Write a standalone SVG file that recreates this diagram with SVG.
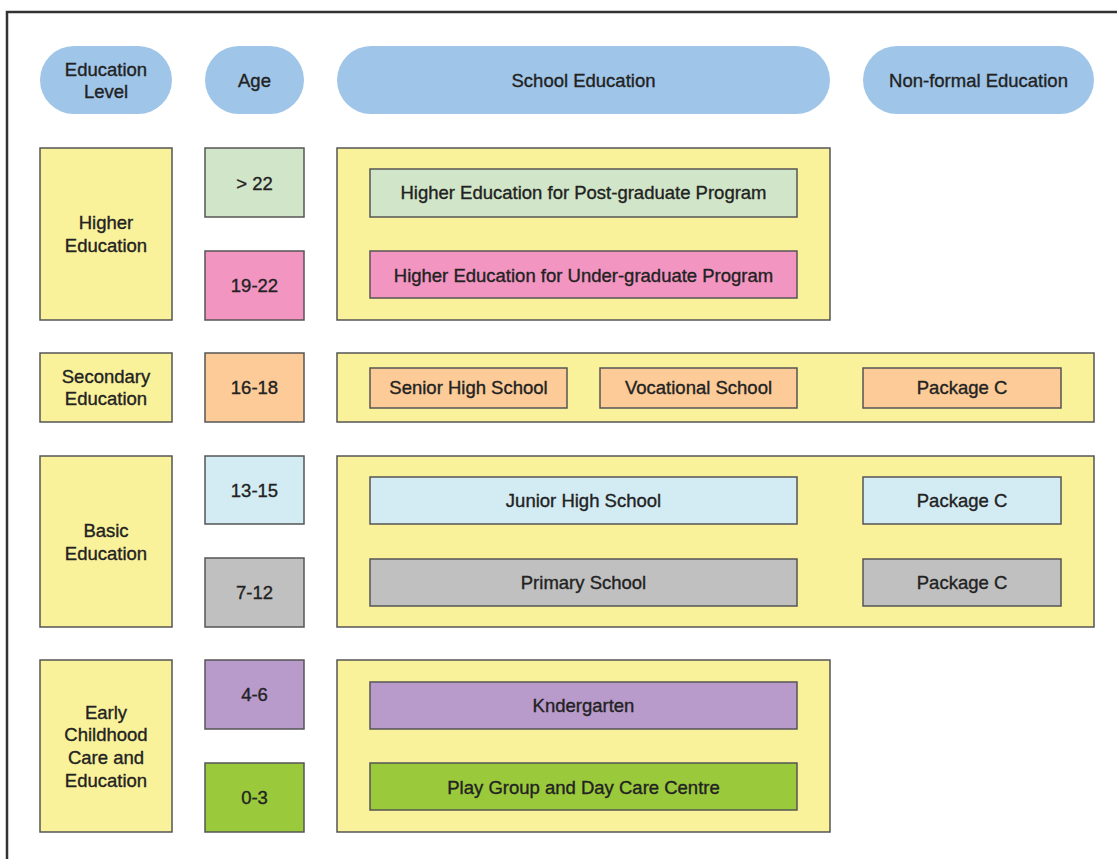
<svg xmlns="http://www.w3.org/2000/svg" width="1117" height="859" viewBox="0 0 1117 859">
<style>
text{font-family:"Liberation Sans",Arial,sans-serif;font-size:18.5px;fill:#222;stroke:#222;stroke-width:0.35;text-anchor:middle;dominant-baseline:central}
.pill{fill:#9FC5E8}
.box{stroke:#555;stroke-width:1.5}
.y{fill:#FAF29A}
.g{fill:#D1E6C8}
.p{fill:#F395C1}
.o{fill:#FCCB97}
.lb{fill:#D3EBF3}
.gr{fill:#C0C0C0}
.pu{fill:#B89ACB}
.gn{fill:#9AC93C}
</style>
<rect width="1117" height="859" fill="#fff"/>
<path d="M7,859 V12 H1117" fill="none" stroke="#333" stroke-width="2.5"/>
<g id="header">
<g id="h-level"><rect class="pill" x="40" y="46" width="132" height="68" rx="34"/><text x="106" y="69">Education</text><text x="106" y="91">Level</text></g>
<g id="h-age"><rect class="pill" x="205" y="46" width="99" height="68" rx="34"/><text x="254.5" y="80">Age</text></g>
<g id="h-school"><rect class="pill" x="337" y="46" width="493" height="68" rx="34"/><text x="583.5" y="80">School Education</text></g>
<g id="h-nonformal"><rect class="pill" x="863" y="46" width="231" height="68" rx="34"/><text x="978.5" y="80">Non-formal Education</text></g>
</g>
<g id="higher">
<g id="lvl-higher"><rect class="box y" x="40" y="148" width="132" height="172"/><text x="106" y="222">Higher</text><text x="106" y="245">Education</text></g>
<g id="age-22plus"><rect class="box g" x="205" y="148" width="99" height="69"/><text x="254.5" y="183">&gt; 22</text></g>
<g id="age-19-22"><rect class="box p" x="205" y="251" width="99" height="69"/><text x="254.5" y="285">19-22</text></g>
<g id="school-higher"><rect class="box y" x="337" y="148" width="493" height="172"/></g>
<g id="postgrad"><rect class="box g" x="370" y="169" width="427" height="48"/><text x="583.5" y="192">Higher Education for Post-graduate Program</text></g>
<g id="undergrad"><rect class="box p" x="370" y="251" width="427" height="47"/><text x="583.5" y="275">Higher Education for Under-graduate Program</text></g>
</g>
<g id="secondary">
<g id="lvl-secondary"><rect class="box y" x="40" y="353" width="132" height="69"/><text x="106" y="376">Secondary</text><text x="106" y="398">Education</text></g>
<g id="age-16-18"><rect class="box o" x="205" y="353" width="99" height="69"/><text x="254.5" y="387">16-18</text></g>
<g id="school-secondary"><rect class="box y" x="337" y="353" width="757" height="69"/></g>
<g id="senior"><rect class="box o" x="370" y="368" width="197" height="40"/><text x="468.5" y="387">Senior High School</text></g>
<g id="vocational"><rect class="box o" x="600" y="368" width="197" height="40"/><text x="698.5" y="387">Vocational School</text></g>
<g id="pkgc-sec"><rect class="box o" x="863" y="368" width="198" height="40"/><text x="962" y="387">Package C</text></g>
</g>
<g id="basic">
<g id="lvl-basic"><rect class="box y" x="40" y="456" width="132" height="171"/><text x="106" y="530">Basic</text><text x="106" y="553">Education</text></g>
<g id="age-13-15"><rect class="box lb" x="205" y="456" width="99" height="68"/><text x="254.5" y="490">13-15</text></g>
<g id="age-7-12"><rect class="box gr" x="205" y="558" width="99" height="69"/><text x="254.5" y="592">7-12</text></g>
<g id="school-basic"><rect class="box y" x="337" y="456" width="757" height="171"/></g>
<g id="junior"><rect class="box lb" x="370" y="477" width="427" height="47"/><text x="583.5" y="500">Junior High School</text></g>
<g id="pkgc-jr"><rect class="box lb" x="863" y="477" width="198" height="47"/><text x="962" y="500">Package C</text></g>
<g id="primary"><rect class="box gr" x="370" y="559" width="427" height="47"/><text x="583.5" y="582">Primary School</text></g>
<g id="pkgc-pr"><rect class="box gr" x="863" y="559" width="198" height="47"/><text x="962" y="582">Package C</text></g>
</g>
<g id="early">
<g id="lvl-early"><rect class="box y" x="40" y="660" width="132" height="172"/><text x="106" y="712">Early</text><text x="106" y="734">Childhood</text><text x="106" y="757">Care and</text><text x="106" y="780">Education</text></g>
<g id="age-4-6"><rect class="box pu" x="205" y="660" width="99" height="69"/><text x="254.5" y="694">4-6</text></g>
<g id="age-0-3"><rect class="box gn" x="205" y="763" width="99" height="69"/><text x="254.5" y="797">0-3</text></g>
<g id="school-early"><rect class="box y" x="337" y="660" width="493" height="172"/></g>
<g id="kinder"><rect class="box pu" x="370" y="682" width="427" height="47"/><text x="583.5" y="705">Kndergarten</text></g>
<g id="playgroup"><rect class="box gn" x="370" y="763" width="427" height="47"/><text x="583.5" y="787">Play Group and Day Care Centre</text></g>
</g>
<g id="connectors"></g>
</svg>
